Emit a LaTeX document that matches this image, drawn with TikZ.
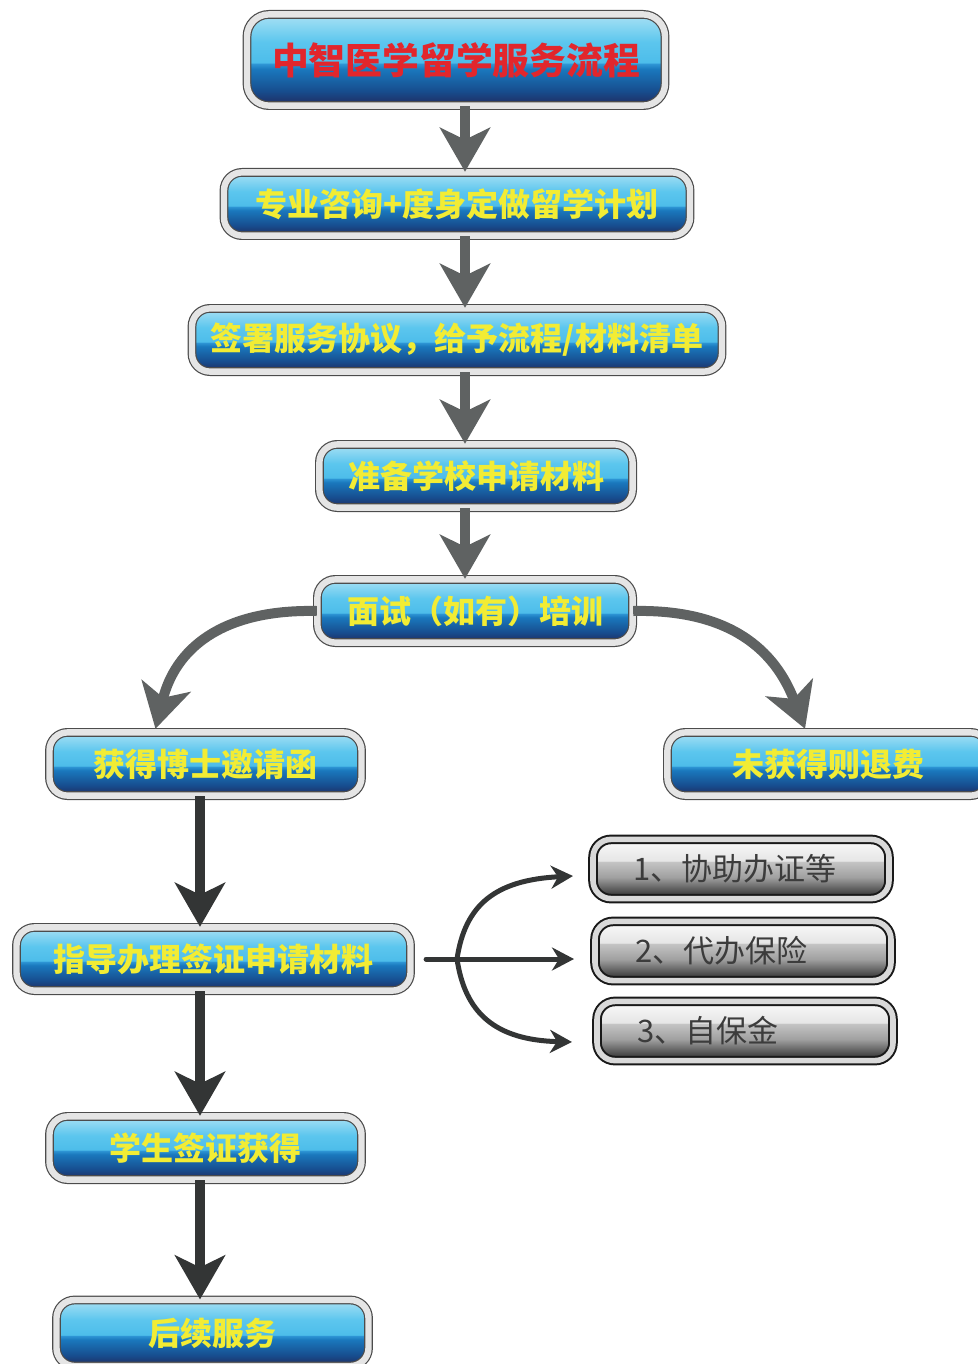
\documentclass[tikz,border=0pt]{standalone}
\usepackage{xcolor}
\usepackage{fontspec}
\newfontfamily\cjk{Noto Sans CJK SC}
\usetikzlibrary{arrows.meta, positioning}

\definecolor{boxyellow}{RGB}{242,236,52}
\definecolor{titlered}{RGB}{226,38,44}
\definecolor{greytext}{RGB}{60,60,60}
\definecolor{arrowgrey}{RGB}{95,98,98}
\definecolor{arrowdark}{RGB}{51,53,53}
\definecolor{bluebot}{RGB}{33,42,94}
\definecolor{bluelow}{RGB}{23,77,142}
\definecolor{bluemid}{RGB}{26,120,189}
\definecolor{blueedge}{RGB}{47,151,214}
\definecolor{bluegloss}{RGB}{77,189,234}
\definecolor{bluehigh}{RGB}{92,198,238}
\definecolor{bluetop}{RGB}{169,225,244}
\definecolor{greybot}{RGB}{38,38,38}
\definecolor{greylow}{RGB}{85,85,85}
\definecolor{greymid}{RGB}{160,160,160}
\definecolor{greyedge}{RGB}{196,196,196}
\definecolor{greygloss}{RGB}{230,230,230}
\definecolor{greytop}{RGB}{250,250,250}

\pgfdeclareverticalshading{blueshade}{100bp}{color(0bp)=(bluebot); color(25bp)=(bluebot); color(33bp)=(bluelow); color(45bp)=(bluemid); color(48bp)=(blueedge); color(48.6bp)=(bluegloss); color(60bp)=(bluehigh); color(75bp)=(bluetop); color(100bp)=(bluetop)}
\pgfdeclareverticalshading{greyshade}{100bp}{color(0bp)=(greybot); color(25bp)=(greybot); color(32bp)=(greylow); color(43bp)=(greymid); color(56bp)=(greyedge); color(57bp)=(greygloss); color(75bp)=(greytop); color(100bp)=(greytop)}

\begin{document}
\begin{tikzpicture}[x=0.5pt, y=-0.5pt]
\tikzstyle{titlebox} = [rectangle, rounded corners=11pt, minimum height=45.6pt, inner sep=0pt, text centered, shading=blueshade, draw=black!70, line width=0.6pt, double=black!10, double distance=3.2pt, text=titlered, font=\cjk\bfseries\fontsize{18.4pt}{18.4pt}\selectfont]
\tikzstyle{bluebox} = [rectangle, rounded corners=9pt, minimum height=31.6pt, inner sep=0pt, text centered, shading=blueshade, draw=black!70, line width=0.6pt, double=black!10, double distance=3.2pt, text=boxyellow, font=\cjk\bfseries\fontsize{16pt}{16pt}\selectfont]
\tikzstyle{greybox} = [rectangle, rounded corners=9pt, minimum height=29.6pt, inner xsep=20pt, inner ysep=0pt, text width=108pt, align=left, shading=greyshade, draw=black!90, line width=1pt, double=black!15, double distance=2.8pt, text=greytext, font=\cjk\fontsize{15.5pt}{15.5pt}\selectfont]
\tikzstyle{arrow} = [line width=5pt, draw=arrowgrey, -{Stealth[length=22pt, width=25pt, inset=6pt]}]
\tikzstyle{darkarrow} = [line width=5pt, draw=arrowdark, -{Stealth[length=22pt, width=25pt, inset=6pt]}]
\tikzstyle{thinarrow} = [line width=2.5pt, draw=arrowdark, line cap=round, -{Stealth[length=11pt, width=11.5pt, inset=3.5pt]}]

\useasboundingbox (0,0) rectangle (978,1364);

\node (title) [titlebox, minimum width=209pt] at (456,60) {中智医学留学服务流程};
\node (consult) [bluebox, minimum width=233pt] at (457,204) {专业咨询+度身定做留学计划};
\node (contract) [bluebox, minimum width=265pt] at (457,340) {签署服务协议，给予流程/材料清单};
\node (prepare) [bluebox, minimum width=156.6pt] at (476,476) {准备学校申请材料};
\node (interview) [bluebox, minimum width=157.6pt] at (475,611) {面试（如有）培训};
\node (offer) [bluebox, minimum width=156pt] at (205.5,764) {获得博士邀请函};
\node (refund) [bluebox, minimum width=160.6pt] at (828,764) {未获得则退费};
\node (visa) [bluebox, minimum width=197pt] at (213.5,959) {指导办理签证申请材料};
\node (granted) [bluebox, minimum width=156pt] at (205.5,1148) {学生签证获得};
\node (follow) [bluebox, minimum width=156pt, minimum height=33pt] at (212.5,1333) {后续服务};

\node (assist) [greybox] at (741,869) {1、协助办证等};
\node (insure) [greybox] at (743,951) {2、代办保险};
\node (deposit) [greybox] at (745,1031) {3、自保金};

\coordinate (spine) at (465,0);
\coordinate (leftspine) at (200,0);
\coordinate (fork) at (457,959);

\draw [arrow] (title.south -| spine) -- (consult.north -| spine);
\draw [arrow] (consult.south -| spine) -- (contract.north -| spine);
\draw [arrow] (contract.south -| spine) -- (prepare.north -| spine);
\draw [arrow] (prepare.south -| spine) -- (interview.north -| spine);
\draw [arrow] (interview.west) .. controls (220,609) and (175,650) .. ([xshift=-25pt, yshift=1.5pt]offer.north);
\draw [arrow] (interview.east) .. controls (730,609) and (775,650) .. ([xshift=-11.5pt, yshift=1.5pt]refund.north);

\draw [darkarrow] (offer.south -| leftspine) -- (visa.north -| leftspine);
\draw [darkarrow] (visa.south -| leftspine) -- (granted.north -| leftspine);
\draw [darkarrow] (granted.south -| leftspine) -- (follow.north -| leftspine);

\draw [thinarrow] ([xshift=7.5pt]visa.east) -- ([xshift=-10pt]insure.west |- visa.east);
\draw [thinarrow] (fork) .. controls (465,905) and (495,880) .. ([xshift=-9.5pt, yshift=-3.5pt]assist.west);
\draw [thinarrow] (fork) .. controls (465,1013) and (495,1040) .. ([xshift=-12pt, yshift=-5.5pt]deposit.west);

\end{tikzpicture}
\end{document}
